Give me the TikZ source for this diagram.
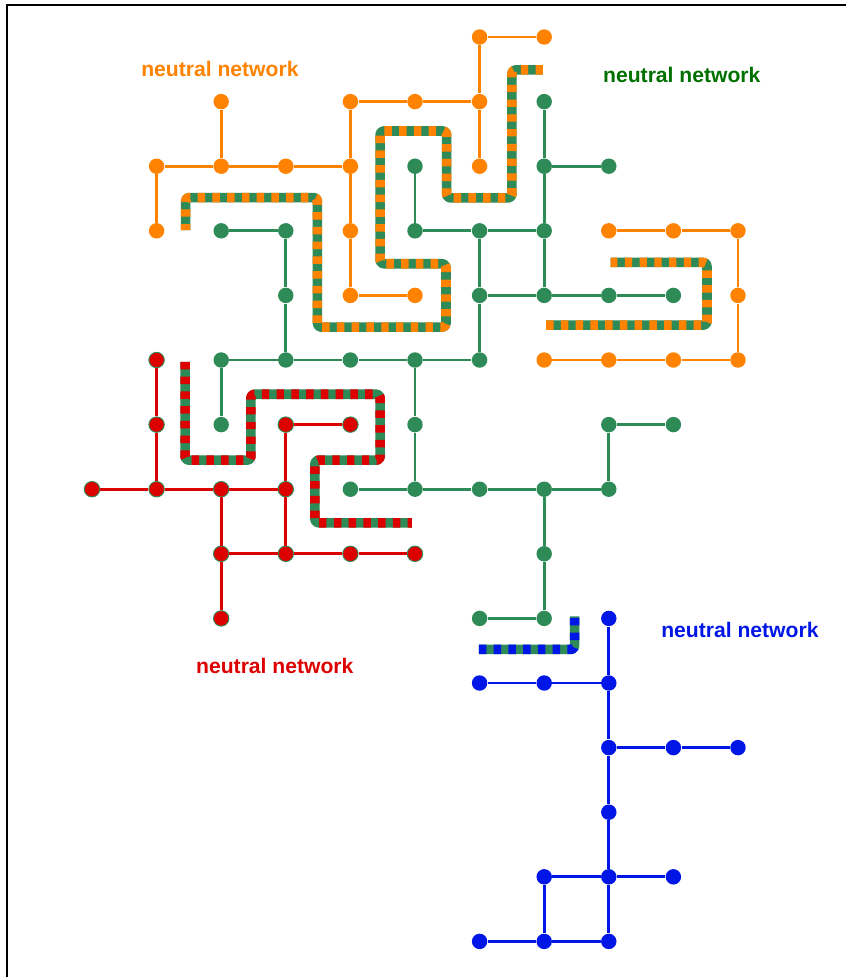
\documentclass[tikz,border=0pt]{standalone}
\usepackage{fontspec}
\setmainfont{Liberation Sans}
\usepackage{tikz}
\usetikzlibrary{shapes}

\definecolor{netorange}{RGB}{255,130,0}
\definecolor{netgreen}{RGB}{46,139,87}
\definecolor{labgreen}{RGB}{0,112,0}
\definecolor{netred}{RGB}{221,0,0}
\definecolor{netblue}{RGB}{0,22,230}

\begin{document}
\begin{tikzpicture}[x=1cm,y=-1cm,
          dot/.style={circle,inner sep=0pt,minimum size=6.8pt},
          odot/.style={dot,fill=netorange},
          gdot/.style={dot,fill=netgreen},
          rdot/.style={dot,fill=netred,draw=netgreen,line width=0.4pt},
          bdot/.style={dot,fill=netblue},
          link/.style={line width=1.25pt},
          lab/.style={font=\fontsize{9.3}{11}\selectfont\bfseries,inner sep=0pt},
          mix/.style={line width=4.2pt,draw=netgreen,rounded corners=1.5pt,line join=round,
                      postaction={draw=#1,dash pattern=on 3.25pt off 3.25pt}},
          frame/.style={draw=black,line width=0.9pt}
        ]
        \useasboundingbox (-1.4241,-0.5728) rectangle (11.672,14.551);
        \draw[frame] (-1.32,14.551) |- (11.672,-0.491);

        %shared stretches
        \draw[mix=netorange] (6.98,0.51) -- (6.50,0.51) -- (6.50,2.49) -- (5.49,2.49)
              -- (5.49,1.455) -- (4.46,1.455) -- (4.46,3.51) -- (5.48,3.51)
              -- (5.48,4.49) -- (3.49,4.49) -- (3.49,2.485) -- (1.45,2.485) -- (1.45,2.99);
        \draw[mix=netorange] (7.03,4.46) -- (9.52,4.46) -- (9.52,3.49) -- (8.03,3.49);
        \draw[mix=netred] (1.44,5.03) -- (1.44,6.55) -- (2.46,6.55) -- (2.46,5.53)
              -- (4.46,5.53) -- (4.46,6.55) -- (3.45,6.55) -- (3.45,7.52) -- (4.95,7.52);
        \draw[mix=netblue] (5.99,9.48) -- (7.47,9.48) -- (7.47,8.97);

        %orange network
        \node[odot] (o60) at (6,0) {};
        \node[odot] (o70) at (7,0) {};
        \node[odot] (o21) at (2,1) {};
        \node[odot] (o41) at (4,1) {};
        \node[odot] (o51) at (5,1) {};
        \node[odot] (o61) at (6,1) {};
        \node[odot] (o12) at (1,2) {};
        \node[odot] (o22) at (2,2) {};
        \node[odot] (o32) at (3,2) {};
        \node[odot] (o42) at (4,2) {};
        \node[odot] (o62) at (6,2) {};
        \node[odot] (o13) at (1,3) {};
        \node[odot] (o43) at (4,3) {};
        \node[odot] (o44) at (4,4) {};
        \node[odot] (o54) at (5,4) {};
        \node[odot] (o83) at (8,3) {};
        \node[odot] (o93) at (9,3) {};
        \node[odot] (o103) at (10,3) {};
        \node[odot] (o104) at (10,4) {};
        \node[odot] (o75) at (7,5) {};
        \node[odot] (o85) at (8,5) {};
        \node[odot] (o95) at (9,5) {};
        \node[odot] (o105) at (10,5) {};
        \path[link,netorange]
        (o60) edge (o70)
        (o60) edge (o61)
        (o61) edge (o62)
        (o41) edge (o51)
        (o51) edge (o61)
        (o41) edge (o42)
        (o42) edge (o43)
        (o43) edge (o44)
        (o44) edge (o54)
        (o21) edge (o22)
        (o12) edge (o22)
        (o22) edge (o32)
        (o32) edge (o42)
        (o12) edge (o13)
        (o83) edge (o93)
        (o93) edge (o103)
        (o103) edge (o104)
        (o104) edge (o105)
        (o105) edge (o95)
        (o95) edge (o85)
        (o85) edge (o75)
        ;

        %green network
        \node[gdot] (g71) at (7,1) {};
        \node[gdot] (g52) at (5,2) {};
        \node[gdot] (g72) at (7,2) {};
        \node[gdot] (g82) at (8,2) {};
        \node[gdot] (g23) at (2,3) {};
        \node[gdot] (g33) at (3,3) {};
        \node[gdot] (g53) at (5,3) {};
        \node[gdot] (g63) at (6,3) {};
        \node[gdot] (g73) at (7,3) {};
        \node[gdot] (g34) at (3,4) {};
        \node[gdot] (g64) at (6,4) {};
        \node[gdot] (g74) at (7,4) {};
        \node[gdot] (g84) at (8,4) {};
        \node[gdot] (g94) at (9,4) {};
        \node[gdot] (g25) at (2,5) {};
        \node[gdot] (g35) at (3,5) {};
        \node[gdot] (g45) at (4,5) {};
        \node[gdot] (g55) at (5,5) {};
        \node[gdot] (g65) at (6,5) {};
        \node[gdot] (g26) at (2,6) {};
        \node[gdot] (g56) at (5,6) {};
        \node[gdot] (g86) at (8,6) {};
        \node[gdot] (g96) at (9,6) {};
        \node[gdot] (g47) at (4,7) {};
        \node[gdot] (g57) at (5,7) {};
        \node[gdot] (g67) at (6,7) {};
        \node[gdot] (g77) at (7,7) {};
        \node[gdot] (g87) at (8,7) {};
        \node[gdot] (g78) at (7,8) {};
        \node[gdot] (g69) at (6,9) {};
        \node[gdot] (g79) at (7,9) {};
        \path[link,netgreen]
        (g71) edge (g72)
        (g72) edge (g73)
        (g73) edge (g74)
        (g72) edge (g82)
        (g52) edge (g53)
        (g53) edge (g63)
        (g63) edge (g73)
        (g63) edge (g64)
        (g64) edge (g65)
        (g64) edge (g74)
        (g74) edge (g84)
        (g84) edge (g94)
        (g23) edge (g33)
        (g33) edge (g34)
        (g34) edge (g35)
        (g25) edge (g35)
        (g35) edge (g45)
        (g45) edge (g55)
        (g55) edge (g65)
        (g25) edge (g26)
        (g55) edge (g56)
        (g56) edge (g57)
        (g47) edge (g57)
        (g57) edge (g67)
        (g67) edge (g77)
        (g77) edge (g87)
        (g87) edge (g86)
        (g86) edge (g96)
        (g77) edge (g78)
        (g78) edge (g79)
        (g69) edge (g79)
        ;

        %red network
        \node[rdot] (r15) at (1,5) {};
        \node[rdot] (r16) at (1,6) {};
        \node[rdot] (r36) at (3,6) {};
        \node[rdot] (r46) at (4,6) {};
        \node[rdot] (r07) at (0,7) {};
        \node[rdot] (r17) at (1,7) {};
        \node[rdot] (r27) at (2,7) {};
        \node[rdot] (r37) at (3,7) {};
        \node[rdot] (r28) at (2,8) {};
        \node[rdot] (r38) at (3,8) {};
        \node[rdot] (r48) at (4,8) {};
        \node[rdot] (r58) at (5,8) {};
        \node[rdot] (r29) at (2,9) {};
        \path[link,netred]
        (r15) edge (r16)
        (r16) edge (r17)
        (r07) edge (r17)
        (r17) edge (r27)
        (r27) edge (r37)
        (r37) edge (r36)
        (r36) edge (r46)
        (r37) edge (r38)
        (r27) edge (r28)
        (r28) edge (r29)
        (r28) edge (r38)
        (r38) edge (r48)
        (r48) edge (r58)
        ;

        %blue network
        \node[bdot] (b89) at (8,9) {};
        \node[bdot] (b610) at (6,10) {};
        \node[bdot] (b710) at (7,10) {};
        \node[bdot] (b810) at (8,10) {};
        \node[bdot] (b811) at (8,11) {};
        \node[bdot] (b911) at (9,11) {};
        \node[bdot] (b1011) at (10,11) {};
        \node[bdot] (b812) at (8,12) {};
        \node[bdot] (b713) at (7,13) {};
        \node[bdot] (b813) at (8,13) {};
        \node[bdot] (b913) at (9,13) {};
        \node[bdot] (b614) at (6,14) {};
        \node[bdot] (b714) at (7,14) {};
        \node[bdot] (b814) at (8,14) {};
        \path[link,netblue]
        (b89) edge (b810)
        (b810) edge (b811)
        (b811) edge (b812)
        (b812) edge (b813)
        (b813) edge (b814)
        (b610) edge (b710)
        (b710) edge (b810)
        (b811) edge (b911)
        (b911) edge (b1011)
        (b713) edge (b813)
        (b813) edge (b913)
        (b713) edge (b714)
        (b614) edge (b714)
        (b714) edge (b814)
        ;

        %labels
        \node[lab,text=netorange] (olab) at (1.98,0.495) {neutral network};
        \node[lab,text=labgreen] (glab) at (9.13,0.588) {neutral network};
        \node[lab,text=netred] (rlab) at (2.83,9.74) {neutral network};
        \node[lab,text=netblue] (blab) at (10.03,9.18) {neutral network};
    \end{tikzpicture}
\end{document}
